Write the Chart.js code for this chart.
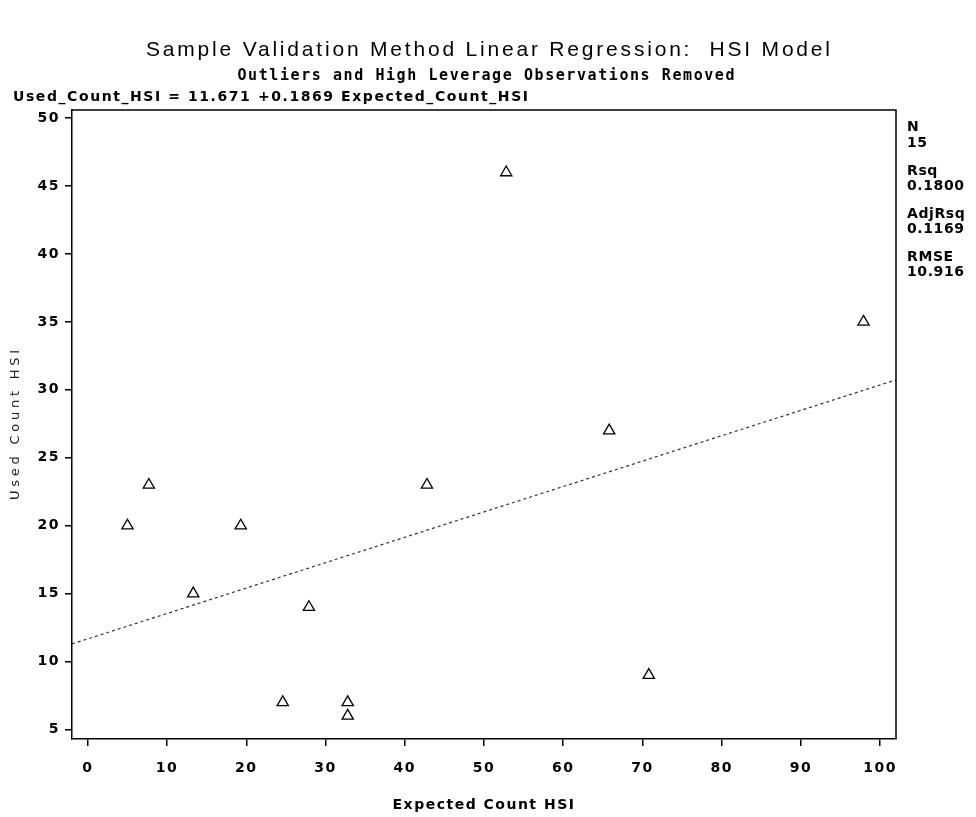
<!DOCTYPE html>
<html>
<head>
<meta charset="utf-8">
<script src="https://cdn.jsdelivr.net/npm/chart.js@4"></script>
<style>
html,body{margin:0;padding:0;background:#fff;}
canvas{display:block;}
</style>
</head>
<body>
<canvas id="c" width="976" height="817"></canvas>
<script>
const expectedCount = [5.0, 7.7, 13.3, 19.3, 24.6, 27.9, 32.8, 32.8, 42.8, 52.8, 65.8, 70.8, 97.9];
const usedCount     = [20,  23,  15,   20,   7,    14,   7,    6,    23,   46,   27,   9,    35];
const intercept = 11.671;
const slope = 0.1869;
const xRange = [-2, 102];
const yRange = [4.3, 50.6];
const xTicks = [0, 10, 20, 30, 40, 50, 60, 70, 80, 90, 100];
const yTicks = [5, 10, 15, 20, 25, 30, 35, 40, 45, 50];
const titleText = "Sample Validation Method Linear Regression:  HSI Model";
const subtitleText = "Outliers and High Leverage Observations Removed";
const equationText = "Used_Count_HSI = 11.671 +0.1869 Expected_Count_HSI";
const statLabels = ["N", "15", "Rsq", "0.1800", "AdjRsq", "0.1169", "RMSE", "10.916"];
const xTitle = "Expected Count HSI";
const yTitle = "Used Count HSI";

const points = expectedCount.map((x, i) => ({x: x, y: usedCount[i]}));
const fitLine = xRange.map(x => ({x: x, y: intercept + slope * x}));

function drawFit(ctx, text, x, y, width, font, align) {
  ctx.save();
  ctx.font = font;
  ctx.letterSpacing = '0px';
  const w = ctx.measureText(text).width;
  const sp = (width - w) / (text.length - 1);
  ctx.letterSpacing = sp + 'px';
  ctx.textAlign = 'left';
  let left = x;
  if (align === 'center') left = x - width / 2;
  ctx.fillText(text, left, y);
  ctx.restore();
}

const spacing = {
  id: 'spacing',
  beforeDraw(chart) { chart.ctx.letterSpacing = '1.5px'; }
};

const decor = {
  id: 'decor',
  afterDraw(chart) {
    const ctx = chart.ctx;
    const a = chart.chartArea;
    ctx.save();
    ctx.letterSpacing = '0px';
    ctx.strokeStyle = '#000';
    ctx.lineWidth = 1.5;
    ctx.beginPath();
    ctx.moveTo(a.left, a.top);
    ctx.lineTo(a.right, a.top);
    ctx.lineTo(a.right, a.bottom);
    ctx.stroke();
    ctx.fillStyle = '#000';
    ctx.textBaseline = 'middle';
    drawFit(ctx, titleText, 488, 50, 684, "21px 'Liberation Sans', Arial, sans-serif", 'center');
    drawFit(ctx, subtitleText, 486, 76, 497, "bold 15px 'DejaVu Sans Mono', monospace", 'center');
    drawFit(ctx, equationText, 13, 97, 515, "bold 14px 'DejaVu Sans', sans-serif", 'left');
    ctx.textAlign = 'left';
    ctx.font = "bold 14px 'DejaVu Sans', sans-serif";
    ctx.letterSpacing = '0.6px';
    const ys = [127, 143, 171, 186, 214, 229, 257, 272];
    statLabels.forEach((t, i) => ctx.fillText(t, 907, ys[i]));
    ctx.save();
    ctx.translate(16, 425);
    ctx.rotate(-Math.PI / 2);
    ctx.fillStyle = '#222';
    drawFit(ctx, yTitle, 0, 0, 150, "13px 'DejaVu Sans', sans-serif", 'center');
    ctx.restore();
    ctx.restore();
  }
};

const tickFont = {family: "'DejaVu Sans', sans-serif", size: 14, weight: 'bold'};

new Chart(document.getElementById('c'), {
  type: 'scatter',
  data: {
    datasets: [
      {
        label: 'Observed',
        data: points,
        pointStyle: 'triangle',
        pointRadius: 6.5,
        pointBorderColor: '#000',
        pointBackgroundColor: 'rgba(0,0,0,0)',
        pointBorderWidth: 1.3,
        showLine: false
      },
      {
        label: 'Fit',
        data: fitLine,
        type: 'line',
        showLine: true,
        borderColor: '#333',
        borderWidth: 1.2,
        borderDash: [3, 3],
        pointRadius: 0,
        fill: false
      }
    ]
  },
  options: {
    responsive: false,
    animation: false,
    devicePixelRatio: 1,
    layout: {padding: {top: 110, right: 80, bottom: 0, left: 0}},
    plugins: {legend: {display: false}, tooltip: {enabled: false}, title: {display: false}},
    scales: {
      x: {
        type: 'linear',
        min: xRange[0], max: xRange[1],
        afterBuildTicks(s) { s.ticks = xTicks.map(v => ({value: v})); },
        afterFit(s) { s.height = 78; },
        grid: {display: true, drawOnChartArea: false, drawTicks: true, tickLength: 7, color: '#000', lineWidth: 1.5},
        border: {display: true, color: '#000', width: 1.5},
        ticks: {color: '#000', font: tickFont, padding: 14, maxRotation: 0},
        title: {display: true, text: xTitle, color: '#000', font: tickFont, padding: {top: 4, bottom: 3}}
      },
      y: {
        type: 'linear',
        min: yRange[0], max: yRange[1],
        afterBuildTicks(s) { s.ticks = yTicks.map(v => ({value: v})); },
        afterFit(s) { s.width = 72; },
        grid: {display: true, drawOnChartArea: false, drawTicks: true, tickLength: 7, color: '#000', lineWidth: 1.5},
        border: {display: true, color: '#000', width: 1.5},
        ticks: {color: '#000', font: tickFont, padding: 5}
      }
    }
  },
  plugins: [spacing, decor]
});
</script>
</body>
</html>
